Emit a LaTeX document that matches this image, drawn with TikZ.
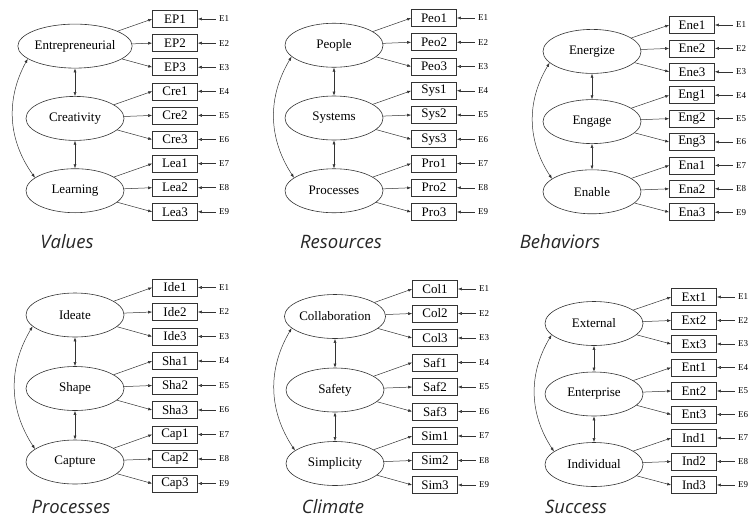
\documentclass[tikz,border=0pt]{standalone}
\usepackage{fontspec}
\setmainfont{Liberation Serif}
\newfontfamily\captionfont{Open Sans}
\usetikzlibrary{arrows.meta,positioning,shapes.geometric}
\tikzset{
  latent/.style={ellipse,draw=black!80,line width=0.6pt,minimum width=98pt,
    minimum height=44pt,inner sep=0pt,font=\fontsize{13}{15}\selectfont},
  indic/.style={rectangle,draw=black!80,line width=0.6pt,minimum width=45pt,
    minimum height=17pt,inner sep=0pt,font=\fontsize{13}{15}\selectfont},
  err/.style={inner sep=3pt,font=\fontsize{9}{11}\selectfont},
  load/.style={-{Latex[length=4pt,width=3pt]},line width=0.5pt,black!80},
  cov/.style={{Latex[length=4pt,width=3pt]}-{Latex[length=4pt,width=3pt]},
    line width=0.5pt,black!80},
  paneltitle/.style={anchor=base,text=black!85,
    font=\captionfont\itshape\fontsize{18.5}{22}\selectfont}}
\begin{document}
\begin{tikzpicture}[x=1pt,y=-1pt]
  \useasboundingbox (0,0) rectangle (755,520);
  \foreach \px/\py/\pd/\tx/\ty/\ttl/\la/\lb/\lc/\ka/\kb/\kc [count=\p] in {
    75/19/24.1/67/248/Values/Entrepreneurial/Creativity/Learning/EP/Cre/Lea,
    334/18/24.25/341/248/Resources/People/Systems/Processes/Peo/Sys/Pro,
    592/25/23.4/560/248/Behaviors/Energize/Engage/Enable/Ene/Eng/Ena,
    75/287.5/24.5/71/513/Processes/Ideate/Shape/Capture/Ide/Sha/Cap,
    335/289/24.5/333/513/Climate/Collaboration/Safety/Simplicity/Col/Saf/Sim,
    594/297/23.5/576/513/Success/External/Enterprise/Individual/Ext/Ent/Ind}
  {
    \node[paneltitle] (t\p) at (\tx,\ty) {\ttl};
    \foreach \l/\k [count=\i] in {\la/\ka,\lb/\kb,\lc/\kc}{
      \node[latent] (p\p-f\i) at (\px,{\py+(3*\i-2)*\pd+3}) {\l};
      \foreach \j in {1,2,3}{
        \pgfmathtruncatemacro\n{3*(\i-1)+\j}
        \node[indic] (p\p-x\n) at ({\px+100},{\py+(\n-1)*\pd}) {\k\j};
        \node[err,right=18pt of p\p-x\n] (p\p-e\n) {E\n};
        \draw[load] (p\p-f\i) -- (p\p-x\n.west);
        \draw[load] (p\p-e\n) -- (p\p-x\n);
      }
    }
    \draw[cov] (p\p-f1) -- (p\p-f2);
    \draw[cov] (p\p-f2) -- (p\p-f3);
    \draw[cov] (p\p-f1.195) to[bend right=32] (p\p-f3.162);
  }
\end{tikzpicture}
\end{document}
